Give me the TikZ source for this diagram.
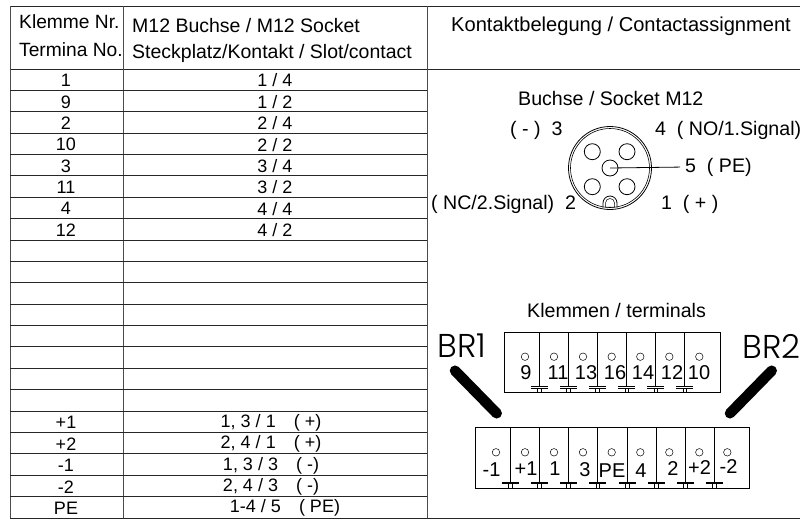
\documentclass[tikz,border=0pt]{standalone}
\usepackage{fontspec}
\setmainfont{Liberation Sans}
\newfontfamily\brfont{Poppins}[UprightFont=* Light]
\tikzset{
  rule/.style={line width=.9pt, black!85},
  head/.style={inner sep=0pt, anchor=west, font=\fontsize{19.5}{20}\selectfont},
  cell/.style={inner sep=0pt, font=\fontsize{18}{18}\selectfont},
  lab/.style={inner sep=0pt, anchor=west, font=\fontsize{19.6}{20}\selectfont},
  term/.style={inner sep=0pt, font=\fontsize{20}{20}\selectfont},
  bridge/.style={inner sep=0pt, font=\brfont\fontsize{33}{34}\selectfont},
  pinhole/.style={circle, draw, line width=.8pt, inner sep=0pt, minimum size=16pt},
  hole/.style={circle, draw, line width=.5pt, inner sep=0pt, minimum size=7.5pt},
  block/.style={draw, line width=.7pt, inner sep=0pt, anchor=north west},
  strap/.style={line width=10.5pt, line cap=round}
}
\begin{document}
\begin{tikzpicture}[x=1pt,y=-1pt]
\useasboundingbox (0,0) rectangle (800,520);
% table rules
\draw [rule] (10,6) -- (800,6);
\draw [rule] (10,69) -- (800,69);
\draw [rule] (10,518) -- (800,518);
\foreach \x in {10,123.5,427} \draw [rule, black!70] (\x,6) -- (\x,518);
\foreach \n in {1,...,20} \draw [rule] (10,69+21.38*\n) -- (427,69+21.38*\n);
% header
\node (hklemme) [head, font=\fontsize{19.2}{20}\selectfont] at (19,22) {Klemme Nr.};
\node (hterm) [head, font=\fontsize{19.2}{20}\selectfont] at (19,49.5) {Termina No.};
\node (hbuchse) [head] at (132,25.5) {M12 Buchse / M12 Socket};
\node (hslot) [head] at (132,53) {Steckplatz/Kontakt / Slot/contact};
\node (hkontakt) [head, font=\fontsize{20.1}{20}\selectfont] at (451,26) {Kontaktbelegung / Contactassignment};
% rows
\foreach \n/\a/\b in {0/1/{1 / 4},1/9/{1 / 2},2/2/{2 / 4},3/10/{2 / 2},4/3/{3 / 4},5/11/{3 / 2},6/4/{4 / 4},7/12/{4 / 2}} {
  \node (ra\n) [cell] at (66,80.5+21.38*\n) {\a};
  \node (rb\n) [cell] at (275,80.5+21.38*\n) {\b};
}
\foreach \n/\a/\b in {16/+1/{1, 3 / 1\quad( +)},17/+2/{2, 4 / 1\quad( +)},18/-1/{1, 3 / 3\quad( -)},19/-2/{2, 4 / 3\quad( -)}} {
  \node (ra\n) [cell] at (66,80.5+21.38*\n) {\a};
  \node (rb\n) [cell] at (271,80.5+21.38*\n) {\b};
}
\node (ra20) [cell] at (66,508) {PE};
\node (rb20) [cell] at (285,508) {1-4 / 5\quad( PE)};
% socket
\node (tsocket) [lab] at (518,98.5) {Buchse / Socket M12};
\node (socket) [circle, draw, line width=.8pt, inner sep=0pt, minimum size=83pt] at (610,168) {};
\node (socketin) [circle, draw, line width=.6pt, inner sep=0pt, minimum size=79pt] at (610,168) {};
\node (pinc) [pinhole] at (610,168) {};
\node (pin3) [pinhole] at (592.3,151.7) {};
\node (pin4) [pinhole] at (627,151.7) {};
\node (pin2) [pinhole] at (592.3,186.7) {};
\node (pin1) [pinhole] at (627,186.7) {};
\draw [line width=.8pt] (603,207.5) -- (603,203) arc [start angle=180, end angle=360, radius=7] -- (617,207.5);
\draw [line width=.5pt] (605.5,207) -- (605.5,203) arc [start angle=180, end angle=360, radius=4.5] -- (614.5,207) -- cycle;
\node (l3) [lab] at (510,130) {( - ) \ 3};
\node (l4) [lab] at (655,130) {4 \ ( NO/1.Signal)};
\node (l5) [lab] at (685,167) {5 \ ( PE)};
\node (l2) [lab] at (431,204) {( NC/2.Signal) \ 2};
\node (l1) [lab] at (661,204) {1 \ ( + )};
\draw [line width=.8pt, shorten >=5pt] (pinc.center) -- (l5.west);
% terminals
\node (tklemmen) [lab] at (527,310.5) {Klemmen / terminals};
\node (btop) [block, minimum width=215.5pt, minimum height=59.5pt] at (504,332) {};
\node (bbot) [block, minimum width=274pt, minimum height=61pt] at (475.3,427.3) {};
\foreach \x in {539.3,568.3,597.3,626.7,655.7,684.7} {
  \draw [line width=.7pt] (\x,332) -- (\x,387);
  \draw [line width=.7pt] (\x-8.5,386.5) -- (\x+8.5,386.5);
  \draw [line width=.5pt] (\x-8.5,388) -- (\x+8.5,388);
  \draw [line width=.5pt] (\x-1.7,388) -- (\x-1.7,391.5) (\x+1.7,388) -- (\x+1.7,391.5);
}
\foreach \x in {510.3,539.3,568.3,597.7,627.3,656.3,685.3,714.3} {
  \draw [line width=.7pt] (\x,427.3) -- (\x,482.5);
  \draw [line width=.7pt] (\x-8.5,482) -- (\x+8.5,482);
  \draw [line width=.5pt] (\x-8.5,483.5) -- (\x+8.5,483.5);
  \draw [line width=.5pt] (\x-1.7,483.5) -- (\x-1.7,488) (\x+1.7,483.5) -- (\x+1.7,488);
}
\foreach \n/\x/\t/\xt in {1/525/9/526,2/554/11/558,3/583/13/586,4/611.7/16/615,5/640.3/14/643,6/669.3/12/672,7/699.3/10/699} {
  \node (ht\n) [hole] at (\x,356.7) {};
  \node (tt\n) [term] at (\xt,372.5) {\t};
}
\foreach \n/\x/\t/\xt/\yt in {1/496/-1/491.5/470,2/525/+1/526/469,3/554/1/555/469,4/583/3/585/470,5/611.7/PE/612/471,6/640.3/4/641/471,7/669.3/2/673/469,8/699.3/+2/699.5/468,9/727.3/-2/728.5/467} {
  \node (hb\n) [hole] at (\x,452.3) {};
  \node (tb\n) [term] at (\xt,\yt) {\t};
}
% bridges
\node (br1) [bridge] at (462,346) {BR1};
\node (br2) [bridge] at (771.5,346) {BR2};
\coordinate (s1a) at (455,370.7);
\coordinate (s1b) at (496.7,413.3);
\coordinate (s2a) at (771.7,370.7);
\coordinate (s2b) at (730,413.3);
\draw [strap] (s1a) -- (s1b);
\draw [strap] (s2a) -- (s2b);
\end{tikzpicture}
\end{document}
